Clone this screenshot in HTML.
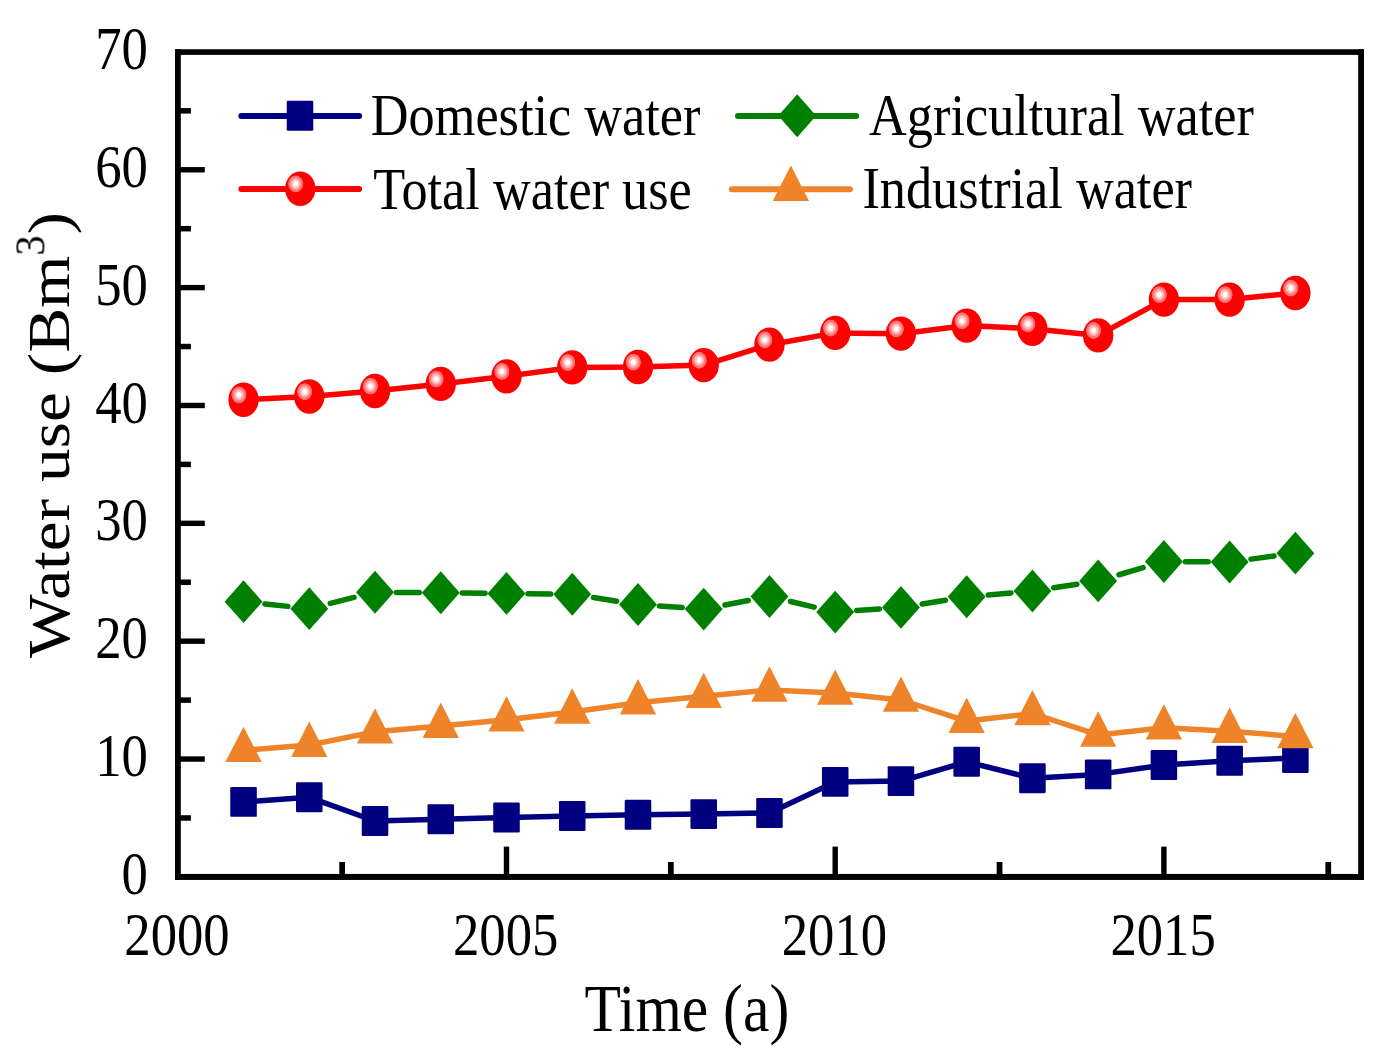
<!DOCTYPE html><html><head><meta charset="utf-8"><style>html,body{margin:0;padding:0;background:#fff;overflow:hidden}svg{display:block}</style></head><body>
<svg width="1390" height="1058" viewBox="0 0 1390 1058">
<defs>
<radialGradient id="hl" cx="0.5" cy="0.5" r="0.5">
<stop offset="0" stop-color="#ffffff"/><stop offset="0.24" stop-color="#ffffff"/>
<stop offset="0.38" stop-color="#ffc8c8"/><stop offset="0.52" stop-color="#ffb4b4"/><stop offset="0.62" stop-color="#ffa0a0"/>
<stop offset="0.7" stop-color="#ff7c7c"/><stop offset="0.92" stop-color="#ff6c6c"/><stop offset="1" stop-color="#ff1010"/>
</radialGradient>
<filter id="nf" x="-20%" y="-20%" width="140%" height="140%"><feOffset dx="0" dy="0"/></filter>
<g id="sq"><rect x="-15" y="-14.95" width="30" height="29.9" rx="1.3" ry="1.2" fill="#000080"/></g>
<g id="di"><path d="M0,-21.45 L21.4,0 L0,21.45 L-21.4,0 Z" fill="#008000"/></g>
<g id="ci"><circle r="17.15" fill="#ff0000"/><ellipse cx="-5.2" cy="-4.9" rx="8.8" ry="8.7" fill="url(#hl)"/></g>
<g id="tr"><path d="M0,-23.6 L20.5,11.8 L-20.5,11.8 Z" fill="#ef832a"/></g>
</defs>
<rect width="1390" height="1058" fill="#fff"/>
<polyline points="243.54,801.90 309.28,797.30 375.02,821.00 440.76,819.30 506.50,817.55 572.24,816.00 637.98,814.80 703.72,814.10 769.46,813.00 835.20,781.90 900.94,781.10 966.68,761.80 1032.42,778.30 1098.16,774.40 1163.90,764.95 1229.64,760.70 1295.38,757.95" fill="none" stroke="#000080" stroke-width="5.50" stroke-linejoin="round" stroke-linecap="round"/>
<use href="#sq" transform="translate(243.54,801.90) scale(0.885,1)"/><use href="#sq" transform="translate(309.28,797.30) scale(0.885,1)"/><use href="#sq" transform="translate(375.02,821.00) scale(0.885,1)"/><use href="#sq" transform="translate(440.76,819.30) scale(0.885,1)"/><use href="#sq" transform="translate(506.50,817.55) scale(0.885,1)"/><use href="#sq" transform="translate(572.24,816.00) scale(0.885,1)"/><use href="#sq" transform="translate(637.98,814.80) scale(0.885,1)"/><use href="#sq" transform="translate(703.72,814.10) scale(0.885,1)"/><use href="#sq" transform="translate(769.46,813.00) scale(0.885,1)"/><use href="#sq" transform="translate(835.20,781.90) scale(0.885,1)"/><use href="#sq" transform="translate(900.94,781.10) scale(0.885,1)"/><use href="#sq" transform="translate(966.68,761.80) scale(0.885,1)"/><use href="#sq" transform="translate(1032.42,778.30) scale(0.885,1)"/><use href="#sq" transform="translate(1098.16,774.40) scale(0.885,1)"/><use href="#sq" transform="translate(1163.90,764.95) scale(0.885,1)"/><use href="#sq" transform="translate(1229.64,760.70) scale(0.885,1)"/><use href="#sq" transform="translate(1295.38,757.95) scale(0.885,1)"/>
<path d="M264.95,603.93 L287.87,606.37 M330.28,603.40 L354.02,597.45 M396.52,592.40 L419.26,592.60 M462.26,593.00 L485.00,593.20 M528.00,593.66 L550.74,593.94 M593.54,597.54 L616.68,601.16 M659.44,606.00 L682.26,607.60 M724.92,605.04 L748.26,600.56 M790.51,601.49 L814.15,607.11 M856.66,610.57 L879.48,608.93 M922.23,603.97 L945.39,600.23 M988.12,594.91 L1010.98,592.89 M1053.73,587.73 L1076.85,584.17 M1118.97,574.76 L1143.09,567.64 M1185.41,561.66 L1208.13,561.84 M1250.99,559.13 L1274.03,556.02" fill="none" stroke="#008000" stroke-width="5.50" stroke-linecap="round"/>
<use href="#di" transform="translate(243.54,601.65) scale(0.885,1)"/><use href="#di" transform="translate(309.28,608.65) scale(0.885,1)"/><use href="#di" transform="translate(375.02,592.20) scale(0.885,1)"/><use href="#di" transform="translate(440.76,592.80) scale(0.885,1)"/><use href="#di" transform="translate(506.50,593.40) scale(0.885,1)"/><use href="#di" transform="translate(572.24,594.20) scale(0.885,1)"/><use href="#di" transform="translate(637.98,604.50) scale(0.885,1)"/><use href="#di" transform="translate(703.72,609.10) scale(0.885,1)"/><use href="#di" transform="translate(769.46,596.50) scale(0.885,1)"/><use href="#di" transform="translate(835.20,612.10) scale(0.885,1)"/><use href="#di" transform="translate(900.94,607.40) scale(0.885,1)"/><use href="#di" transform="translate(966.68,596.80) scale(0.885,1)"/><use href="#di" transform="translate(1032.42,591.00) scale(0.885,1)"/><use href="#di" transform="translate(1098.16,580.90) scale(0.885,1)"/><use href="#di" transform="translate(1163.90,561.50) scale(0.885,1)"/><use href="#di" transform="translate(1229.64,562.00) scale(0.885,1)"/><use href="#di" transform="translate(1295.38,553.15) scale(0.885,1)"/>
<polyline points="243.54,399.75 309.28,396.50 375.02,391.00 440.76,383.90 506.50,376.30 572.24,367.40 637.98,367.00 703.72,365.10 769.46,344.70 835.20,332.90 900.94,333.70 966.68,325.60 1032.42,328.80 1098.16,335.40 1163.90,299.55 1229.64,299.55 1295.38,293.00" fill="none" stroke="#ff0000" stroke-width="5.50" stroke-linejoin="round" stroke-linecap="round"/>
<use href="#ci" transform="translate(243.54,399.75) scale(0.885,1)"/><use href="#ci" transform="translate(309.28,396.50) scale(0.885,1)"/><use href="#ci" transform="translate(375.02,391.00) scale(0.885,1)"/><use href="#ci" transform="translate(440.76,383.90) scale(0.885,1)"/><use href="#ci" transform="translate(506.50,376.30) scale(0.885,1)"/><use href="#ci" transform="translate(572.24,367.40) scale(0.885,1)"/><use href="#ci" transform="translate(637.98,367.00) scale(0.885,1)"/><use href="#ci" transform="translate(703.72,365.10) scale(0.885,1)"/><use href="#ci" transform="translate(769.46,344.70) scale(0.885,1)"/><use href="#ci" transform="translate(835.20,332.90) scale(0.885,1)"/><use href="#ci" transform="translate(900.94,333.70) scale(0.885,1)"/><use href="#ci" transform="translate(966.68,325.60) scale(0.885,1)"/><use href="#ci" transform="translate(1032.42,328.80) scale(0.885,1)"/><use href="#ci" transform="translate(1098.16,335.40) scale(0.885,1)"/><use href="#ci" transform="translate(1163.90,299.55) scale(0.885,1)"/><use href="#ci" transform="translate(1229.64,299.55) scale(0.885,1)"/><use href="#ci" transform="translate(1295.38,293.00) scale(0.885,1)"/>
<polyline points="243.54,750.30 309.28,745.10 375.02,731.80 440.76,726.10 506.50,719.80 572.24,711.90 637.98,702.70 703.72,696.30 769.46,689.90 835.20,693.00 900.94,700.00 966.68,721.10 1032.42,713.50 1098.16,734.90 1163.90,727.75 1229.64,731.20 1295.38,736.40" fill="none" stroke="#ef832a" stroke-width="5.50" stroke-linejoin="round" stroke-linecap="round"/>
<use href="#tr" transform="translate(243.54,750.30) scale(0.885,1)"/><use href="#tr" transform="translate(309.28,745.10) scale(0.885,1)"/><use href="#tr" transform="translate(375.02,731.80) scale(0.885,1)"/><use href="#tr" transform="translate(440.76,726.10) scale(0.885,1)"/><use href="#tr" transform="translate(506.50,719.80) scale(0.885,1)"/><use href="#tr" transform="translate(572.24,711.90) scale(0.885,1)"/><use href="#tr" transform="translate(637.98,702.70) scale(0.885,1)"/><use href="#tr" transform="translate(703.72,696.30) scale(0.885,1)"/><use href="#tr" transform="translate(769.46,689.90) scale(0.885,1)"/><use href="#tr" transform="translate(835.20,693.00) scale(0.885,1)"/><use href="#tr" transform="translate(900.94,700.00) scale(0.885,1)"/><use href="#tr" transform="translate(966.68,721.10) scale(0.885,1)"/><use href="#tr" transform="translate(1032.42,713.50) scale(0.885,1)"/><use href="#tr" transform="translate(1098.16,734.90) scale(0.885,1)"/><use href="#tr" transform="translate(1163.90,727.75) scale(0.885,1)"/><use href="#tr" transform="translate(1229.64,731.20) scale(0.885,1)"/><use href="#tr" transform="translate(1295.38,736.40) scale(0.885,1)"/>
<g fill="#000">
<rect x="175" y="49.25" width="1189.00" height="5.65"/>
<rect x="175" y="873.95" width="1189.00" height="6"/>
<rect x="175" y="49.25" width="5.8" height="830.70"/>
<rect x="1358.2" y="49.25" width="5.8" height="830.70"/>
<rect x="175" y="756.34" width="29.8" height="5.4"/>
<rect x="175" y="638.49" width="29.8" height="5.4"/>
<rect x="175" y="520.63" width="29.8" height="5.4"/>
<rect x="175" y="402.77" width="29.8" height="5.4"/>
<rect x="175" y="284.92" width="29.8" height="5.4"/>
<rect x="175" y="167.06" width="29.8" height="5.4"/>
<rect x="175" y="815.22" width="15.9" height="5.5"/>
<rect x="175" y="697.36" width="15.9" height="5.5"/>
<rect x="175" y="579.51" width="15.9" height="5.5"/>
<rect x="175" y="461.65" width="15.9" height="5.5"/>
<rect x="175" y="343.79" width="15.9" height="5.5"/>
<rect x="175" y="225.94" width="15.9" height="5.5"/>
<rect x="175" y="108.08" width="15.9" height="5.5"/>
<rect x="503.80" y="846.6" width="5.4" height="30"/>
<rect x="832.50" y="846.6" width="5.4" height="30"/>
<rect x="1161.20" y="846.6" width="5.4" height="30"/>
<rect x="339.27" y="862" width="5.75" height="15"/>
<rect x="667.97" y="862" width="5.75" height="15"/>
<rect x="996.67" y="862" width="5.75" height="15"/>
<rect x="1325.37" y="862" width="5.75" height="15"/>
</g>
<text transform="translate(147.90,894.00) scale(0.8639,1)" font-family="Liberation Serif" font-size="61.00" text-anchor="end" fill="#000">0</text>
<text transform="translate(147.90,776.14) scale(0.8639,1)" font-family="Liberation Serif" font-size="61.00" text-anchor="end" fill="#000">10</text>
<text transform="translate(147.90,658.29) scale(0.8639,1)" font-family="Liberation Serif" font-size="61.00" text-anchor="end" fill="#000">20</text>
<text transform="translate(147.90,540.43) scale(0.8639,1)" font-family="Liberation Serif" font-size="61.00" text-anchor="end" fill="#000">30</text>
<text transform="translate(147.90,422.57) scale(0.8639,1)" font-family="Liberation Serif" font-size="61.00" text-anchor="end" fill="#000">40</text>
<text transform="translate(147.90,304.72) scale(0.8639,1)" font-family="Liberation Serif" font-size="61.00" text-anchor="end" fill="#000">50</text>
<text transform="translate(147.90,186.86) scale(0.8639,1)" font-family="Liberation Serif" font-size="61.00" text-anchor="end" fill="#000">60</text>
<text transform="translate(147.90,69.00) scale(0.8639,1)" font-family="Liberation Serif" font-size="61.00" text-anchor="end" fill="#000">70</text>
<text transform="translate(177.00,954.90) scale(0.8639,1)" font-family="Liberation Serif" font-size="61.00" text-anchor="middle" fill="#000">2000</text>
<text transform="translate(505.70,954.90) scale(0.8639,1)" font-family="Liberation Serif" font-size="61.00" text-anchor="middle" fill="#000">2005</text>
<text transform="translate(834.40,954.90) scale(0.8639,1)" font-family="Liberation Serif" font-size="61.00" text-anchor="middle" fill="#000">2010</text>
<text transform="translate(1163.10,954.90) scale(0.8639,1)" font-family="Liberation Serif" font-size="61.00" text-anchor="middle" fill="#000">2015</text>
<text transform="translate(686.90,1030.80) scale(0.8843,1)" font-family="Liberation Serif" font-size="67.40" text-anchor="middle" fill="#000">Time (a)</text>
<text transform="translate(69.3,658) scale(0.8843,1) rotate(-90)" font-family="Liberation Serif" font-size="67.40" fill="#000">Water use (Bm</text>
<text transform="translate(44.4,255.6) scale(0.8843,1) rotate(-90) scale(0.43,0.5)" font-family="Liberation Serif" font-size="94" fill="#000" filter="url(#nf)">3</text>
<text transform="translate(69.3,234.4) scale(0.8843,1) rotate(-90)" font-family="Liberation Serif" font-size="67.40" fill="#000">)</text>
<line x1="241.40" y1="116.00" x2="359.10" y2="116.00" stroke="#000080" stroke-width="6.00" stroke-linecap="round"/>
<use href="#sq" transform="translate(300.00,115.70) scale(0.885,1)"/>
<text transform="translate(370.83,135.20) scale(0.8805,1)" font-family="Liberation Serif" font-size="59.40" text-anchor="start" fill="#000">Domestic water</text>
<line x1="738.00" y1="116.00" x2="856.10" y2="116.00" stroke="#008000" stroke-width="6.00" stroke-linecap="round"/>
<use href="#di" transform="translate(797.20,115.80) scale(0.885,1)"/>
<text transform="translate(869.08,135.30) scale(0.8805,1)" font-family="Liberation Serif" font-size="59.40" text-anchor="start" fill="#000">Agricultural water</text>
<line x1="241.40" y1="189.00" x2="359.10" y2="189.00" stroke="#ff0000" stroke-width="6.00" stroke-linecap="round"/>
<use href="#ci" transform="translate(300.30,188.75) scale(0.885,1)"/>
<text transform="translate(373.15,208.70) scale(0.8805,1)" font-family="Liberation Serif" font-size="59.40" text-anchor="start" fill="#000">Total water use</text>
<line x1="731.85" y1="189.20" x2="849.90" y2="189.20" stroke="#ef832a" stroke-width="6.00" stroke-linecap="round"/>
<use href="#tr" transform="translate(790.90,189.20) scale(0.885,1)"/>
<text transform="translate(862.41,208.40) scale(0.8805,1)" font-family="Liberation Serif" font-size="59.40" text-anchor="start" fill="#000">Industrial water</text>
</svg></body></html>
